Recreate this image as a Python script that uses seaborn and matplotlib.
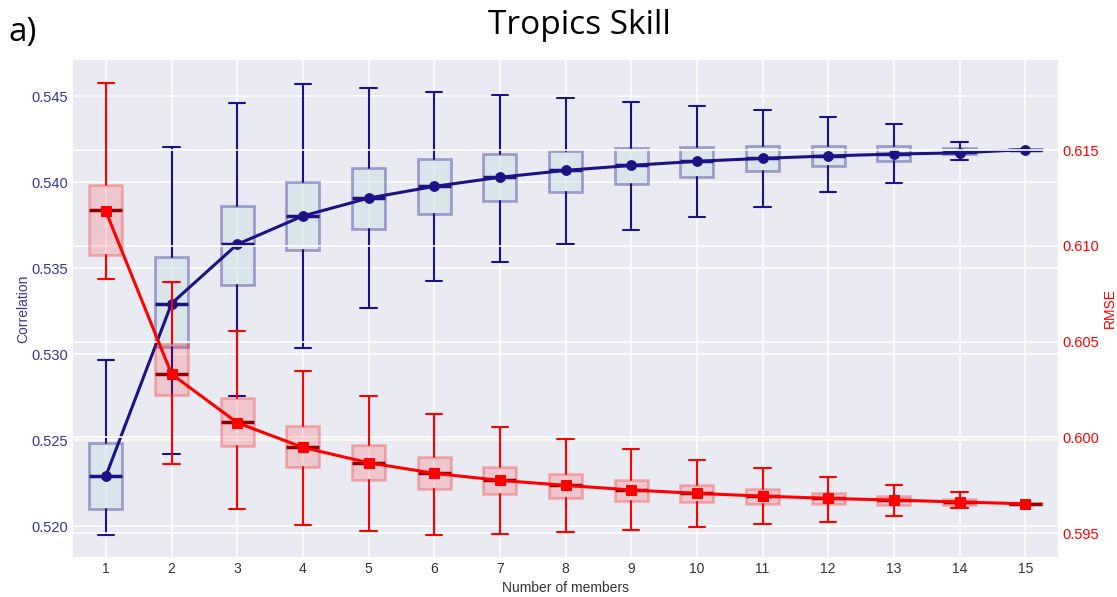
import numpy as np
import matplotlib
matplotlib.use("Agg")
import matplotlib.pyplot as plt
import seaborn as sns

# Ensemble size
members = list(range(1, 16))

# Correlation distribution per ensemble size
corr_whislo = [0.51948, 0.52420, 0.52759, 0.53036, 0.53265, 0.53422, 0.53534, 0.53640,
               0.53724, 0.53797, 0.53857, 0.53942, 0.53997, 0.54128, 0.54189]
corr_q1 = [0.52099, 0.53042, 0.53400, 0.53604, 0.53730, 0.53817, 0.53888, 0.53945,
           0.53987, 0.54028, 0.54064, 0.54094, 0.54122, 0.54166, 0.54187]
corr_med = [0.52291, 0.53294, 0.53638, 0.53803, 0.53907, 0.53975, 0.54028, 0.54068,
            0.54097, 0.54121, 0.54138, 0.54152, 0.54163, 0.54175, 0.54189]
corr_q3 = [0.52484, 0.53565, 0.53861, 0.54003, 0.54084, 0.54132, 0.54165, 0.54183,
           0.54198, 0.54202, 0.54208, 0.54210, 0.54210, 0.54198, 0.54191]
corr_whishi = [0.52963, 0.54204, 0.54459, 0.54572, 0.54545, 0.54522, 0.54506, 0.54487,
               0.54463, 0.54444, 0.54421, 0.54376, 0.54336, 0.54233, 0.54189]
corr_mean = [0.52291, 0.53294, 0.53638, 0.53803, 0.53907, 0.53975, 0.54028, 0.54068,
             0.54097, 0.54121, 0.54138, 0.54152, 0.54163, 0.54170, 0.54189]

# RMSE distribution per ensemble size
rmse_whislo = [0.60825, 0.59860, 0.59628, 0.59544, 0.59510, 0.59492, 0.59498, 0.59505,
               0.59517, 0.59531, 0.59547, 0.59560, 0.59591, 0.59630, 0.59654]
rmse_q1 = [0.60954, 0.60223, 0.59957, 0.59844, 0.59776, 0.59732, 0.59705, 0.59685,
           0.59670, 0.59661, 0.59654, 0.59651, 0.59647, 0.59649, 0.59652]
rmse_med = [0.61188, 0.60331, 0.60080, 0.59950, 0.59868, 0.59813, 0.59776, 0.59750,
            0.59726, 0.59708, 0.59694, 0.59682, 0.59673, 0.59663, 0.59654]
rmse_q3 = [0.61319, 0.60486, 0.60204, 0.60060, 0.59962, 0.59896, 0.59847, 0.59809,
           0.59778, 0.59753, 0.59731, 0.59710, 0.59693, 0.59677, 0.59656]
rmse_whishi = [0.61848, 0.60811, 0.60555, 0.60348, 0.60215, 0.60122, 0.60056, 0.59992,
               0.59938, 0.59884, 0.59839, 0.59792, 0.59752, 0.59717, 0.59654]
rmse_mean = [0.61180, 0.60331, 0.60077, 0.59948, 0.59868, 0.59813, 0.59776, 0.59750,
             0.59726, 0.59708, 0.59694, 0.59682, 0.59673, 0.59663, 0.59654]

corr_ticks = [0.520, 0.525, 0.530, 0.535, 0.540, 0.545]
rmse_ticks = [0.595, 0.600, 0.605, 0.610, 0.615]

sns.set_style("darkgrid")
plt.rcParams["font.family"] = ["Liberation Sans", "DejaVu Sans"]

NAVY = "#1d1285"
CORR_LABEL = "#3b3493"
RED = "#ff0000"


def box_stats(lo, q1, med, q3, hi):
    return [dict(whislo=a, q1=b, med=c, q3=d, whishi=e, fliers=[])
            for a, b, c, d, e in zip(lo, q1, med, q3, hi)]


fig = plt.figure(figsize=(11.17, 5.97), dpi=100)
ax = fig.add_axes([0.0654, 0.067, 0.8818, 0.8325])
ax2 = ax.twinx()

# Correlation boxes and mean curve
ax.bxp(box_stats(corr_whislo, corr_q1, corr_med, corr_q3, corr_whishi),
       positions=members, widths=0.5, patch_artist=True, showfliers=False,
       boxprops=dict(facecolor=(0.80, 0.88, 0.90, 0.55), edgecolor=(0.10, 0.07, 0.55, 0.35), linewidth=2),
       medianprops=dict(color=NAVY, linewidth=2.5),
       whiskerprops=dict(color=NAVY, linewidth=1.5),
       capprops=dict(color=NAVY, linewidth=1.5))
sns.lineplot(x=members, y=corr_mean, ax=ax, color=NAVY, linewidth=2.2,
             marker="o", markersize=7, markeredgecolor=NAVY, zorder=5)

# RMSE boxes and mean curve
ax2.bxp(box_stats(rmse_whislo, rmse_q1, rmse_med, rmse_q3, rmse_whishi),
        positions=members, widths=0.5, patch_artist=True, showfliers=False,
        boxprops=dict(facecolor=(1.0, 0.0, 0.0, 0.15), edgecolor=(1.0, 0.0, 0.0, 0.25), linewidth=2),
        medianprops=dict(color="#8b0000", linewidth=2.5),
        whiskerprops=dict(color=RED, linewidth=1.5),
        capprops=dict(color=RED, linewidth=1.5))
sns.lineplot(x=members, y=rmse_mean, ax=ax2, color=RED, linewidth=2.2,
             marker="s", markersize=6.5, markeredgecolor=RED, zorder=5)

ax.set_xlim(0.5, 15.5)
ax2.set_xlim(0.5, 15.5)
ax.set_ylim(0.5182, 0.5471)
ax2.set_ylim(0.59376, 0.6197)

ax.set_xticks(members)
ax.set_xticklabels([str(m) for m in members], fontsize=10, color="#333333")
ax.set_yticks(corr_ticks)
ax.set_yticklabels([f"{t:.3f}" for t in corr_ticks], fontsize=10.5, color=CORR_LABEL)
ax2.set_yticks(rmse_ticks)
ax2.set_yticklabels([f"{t:.3f}" for t in rmse_ticks], fontsize=10.5, color=RED)

ax.set_xlabel("Number of members", fontsize=10, color="#333333", labelpad=4)
ax.set_ylabel("Correlation", fontsize=10, color=CORR_LABEL, labelpad=1)
ax2.set_ylabel("RMSE", fontsize=10, color=RED, labelpad=3)

for a in (ax, ax2):
    a.grid(True, color="white", linewidth=1.2)
    a.tick_params(length=0)
    for s in a.spines.values():
        s.set_visible(False)
ax2.tick_params(axis="y", pad=3)
ax2.patch.set_visible(False)

fig.text(0.519, 0.957, "Tropics Skill", ha="center", va="center",
         fontsize=24, family=["Open Sans", "DejaVu Sans"], color="black")
fig.text(0.008, 0.945, "a)", ha="left", va="center",
         fontsize=24, family=["Open Sans", "DejaVu Sans"], color="black")

fig.savefig("out.png", dpi=100)
